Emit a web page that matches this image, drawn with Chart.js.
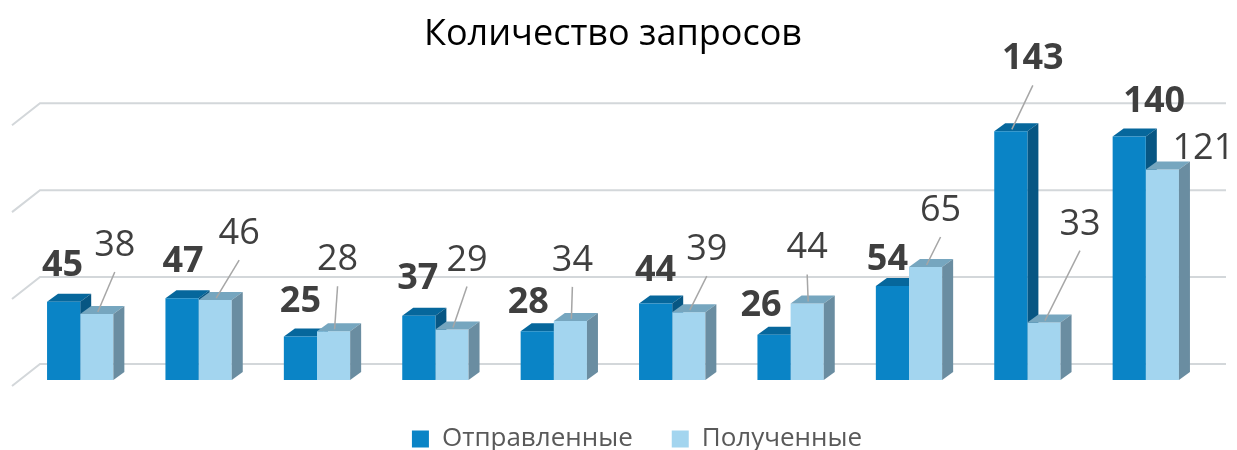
<!DOCTYPE html>
<html>
<head>
<meta charset="utf-8">
<title>Количество запросов</title>
<script src="https://cdn.jsdelivr.net/npm/chart.js@4.4.1/dist/chart.umd.min.js"></script>
<style>
  html, body { margin: 0; padding: 0; background: #fff; }
  #wrap { width: 1237px; height: 450px; }
</style>
</head>
<body>
<div id="wrap"><canvas id="requestsChart"></canvas></div>
<script>
// chart data
const categories = ['1', '2', '3', '4', '5', '6', '7', '8', '9', '10'];
const seriesNames = ['Отправленные', 'Полученные'];
const sentCounts = [45, 47, 25, 37, 28, 44, 26, 54, 143, 140];
const receivedCounts = [38, 46, 28, 29, 34, 39, 44, 65, 33, 121];
const gridTicks = [0, 50, 100, 150];

// label nudges (px from the top of each bar), as placed in the original
const sentLabelShift = [[-1, -39], [1, -39], [0, -38], [-1, -40], [-9, -31], [0, -35], [-13, -32], [-5, -29], [22, -75], [25, -38]];
const recvLabelShift = [[18, -71], [24, -69], [4, -74], [15, -72], [2, -63], [18, -65], [0, -58], [15, -59], [36, -101], [41, -24]];

const colors = {
  sentFront: '#0a84c6', sentTop: '#06679c', sentSide: '#075683',
  recvFront: '#a3d5ef', recvTop: '#76a6bf', recvSide: '#6a8da1',
  grid: '#d3d7da', label: '#3f3f3f', leader: '#a6a6a6'
};

const DEPTH_X = 11, DEPTH_Y = -8;

function barBox(el) {
  const p = el.getProps(['x', 'y', 'base', 'width'], true);
  return { l: p.x - p.width / 2, r: p.x + p.width / 2, t: p.y, b: p.base, cx: p.x };
}

function poly(ctx, pts, color) {
  ctx.fillStyle = color;
  ctx.beginPath();
  ctx.moveTo(pts[0][0], pts[0][1]);
  for (let i = 1; i < pts.length; i++) ctx.lineTo(pts[i][0], pts[i][1]);
  ctx.closePath();
  ctx.fill();
}

// top + right side of a bar, fake 3D
function drawDepth(ctx, b, topColor, sideColor) {
  poly(ctx, [[b.l, b.t], [b.l + DEPTH_X, b.t + DEPTH_Y], [b.r + DEPTH_X, b.t + DEPTH_Y], [b.r, b.t]], topColor);
  poly(ctx, [[b.r, b.t], [b.r + DEPTH_X, b.t + DEPTH_Y], [b.r + DEPTH_X, b.b + DEPTH_Y], [b.r, b.b]], sideColor);
}

function drawLabel(ctx, b, value, shift, bold) {
  const lx = b.cx + shift[0], ly = b.t + shift[1];
  ctx.font = (bold ? 'bold ' : '') + '36px "Open Sans"';
  ctx.fillStyle = colors.label;
  ctx.textAlign = 'center';
  ctx.textBaseline = 'alphabetic';
  ctx.fillText(String(value), lx, ly + 13);
  if (shift[1] < -50) {
    ctx.strokeStyle = colors.leader;
    ctx.lineWidth = 1.5;
    ctx.beginPath();
    ctx.moveTo(lx, ly + 29);
    ctx.lineTo(b.cx + 1, b.t - 2);
    ctx.stroke();
  }
}

const bars3d = {
  id: 'bars3d',
  afterLayout(chart) {
    // legend sits a bit right of centre in the original
    chart.legend.left += 24;
    chart.legend.right += 24;
  },
  beforeDatasetsDraw(chart) {
    const ctx = chart.ctx;
    const y = chart.scales.y;
    const area = chart.chartArea;
    ctx.save();
    // back wall grid lines with the slanted floor edge
    ctx.strokeStyle = colors.grid;
    ctx.lineWidth = 2;
    y.ticks.forEach(t => {
      const py = y.getPixelForValue(t.value) - 16;
      ctx.beginPath();
      ctx.moveTo(area.left - 9, py + 22);
      ctx.lineTo(area.left + 19, py);
      ctx.lineTo(area.right + 21, py);
      ctx.stroke();
    });
    chart.getDatasetMeta(0).data.forEach(el => {
      drawDepth(ctx, barBox(el), colors.sentTop, colors.sentSide);
    });
    ctx.restore();
  },
  afterDatasetsDraw(chart) {
    const ctx = chart.ctx;
    ctx.save();
    chart.getDatasetMeta(1).data.forEach(el => {
      drawDepth(ctx, barBox(el), colors.recvTop, colors.recvSide);
    });
    chart.getDatasetMeta(0).data.forEach((el, i) => {
      drawLabel(ctx, barBox(el), sentCounts[i], sentLabelShift[i], true);
    });
    chart.getDatasetMeta(1).data.forEach((el, i) => {
      drawLabel(ctx, barBox(el), receivedCounts[i], recvLabelShift[i], false);
    });
    ctx.restore();
  }
};

Chart.defaults.font.family = '"Open Sans", sans-serif';

const requestsChart = new Chart(document.getElementById('requestsChart'), {
  type: 'bar',
  data: {
    labels: categories,
    datasets: [{
      label: seriesNames[0],
      data: sentCounts,
      backgroundColor: colors.sentFront,
      borderWidth: 0,
      categoryPercentage: 0.56,
      barPercentage: 1
    }, {
      label: seriesNames[1],
      data: receivedCounts,
      backgroundColor: colors.recvFront,
      borderWidth: 0,
      categoryPercentage: 0.56,
      barPercentage: 1
    }]
  },
  options: {
    responsive: true,
    maintainAspectRatio: false,
    animation: false,
    events: [],
    layout: { padding: { left: 21, right: 32, top: 0, bottom: -12 } },
    plugins: {
      title: {
        display: true,
        text: 'Количество запросов',
        color: '#000',
        font: { size: 36, weight: 'normal' },
        padding: { top: 13, bottom: 63 }
      },
      legend: {
        position: 'bottom',
        labels: {
          boxWidth: 17,
          boxHeight: 17,
          padding: 39,
          color: '#595959',
          font: { size: 26 }
        }
      },
      tooltip: { enabled: false }
    },
    scales: {
      x: {
        grid: { display: false },
        border: { display: false },
        ticks: { display: false },
        afterFit(scale) { scale.height = 7; }
      },
      y: {
        display: false,
        min: gridTicks[0],
        max: gridTicks[gridTicks.length - 1],
        ticks: { stepSize: gridTicks[1] - gridTicks[0] }
      }
    }
  },
  plugins: [bars3d]
});
</script>
</body>
</html>
